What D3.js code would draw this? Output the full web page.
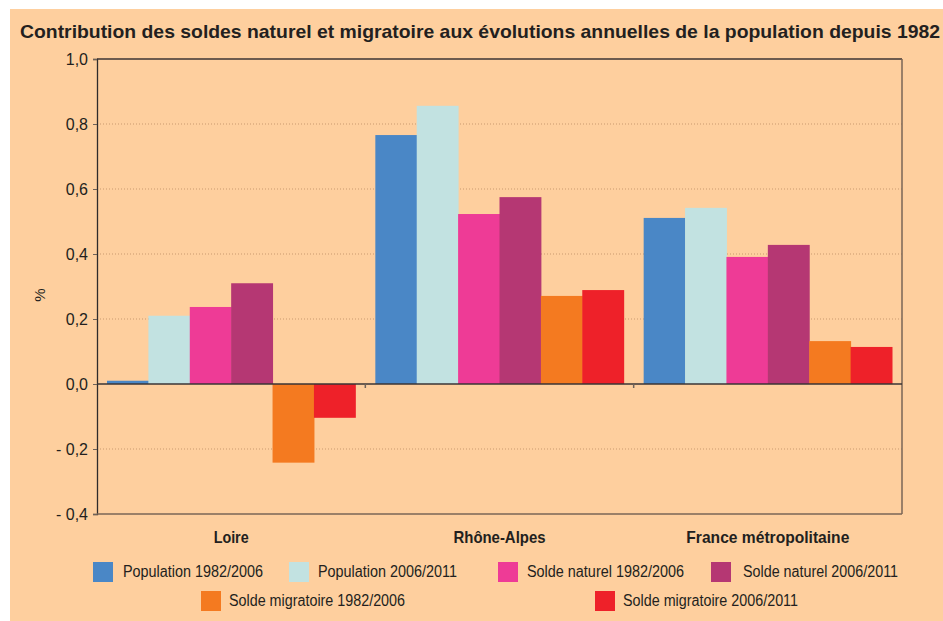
<!DOCTYPE html>
<html>
<head>
<meta charset="utf-8">
<script src="https://cdn.jsdelivr.net/npm/d3@7"></script>
<style>
  body { margin: 0; background: #fff; }
  svg text { font-family: "Liberation Sans", Arial, sans-serif; fill: #231f20; }
</style>
</head>
<body>
<div id="container"></div>
<script>
const categories = ["Loire", "Rhône-Alpes", "France métropolitaine"];
const categoryWidths = [35, 92, 163];
const seriesNames = ["Population 1982/2006", "Population 2006/2011", "Solde naturel 1982/2006",
                     "Solde naturel 2006/2011", "Solde migratoire 1982/2006", "Solde migratoire 2006/2011"];
const pop8206 = [0.01, 0.766, 0.511];
const pop0611 = [0.21, 0.856, 0.542];
const nat8206 = [0.237, 0.523, 0.391];
const nat0611 = [0.31, 0.575, 0.428];
const mig8206 = [-0.242, 0.271, 0.132];
const mig0611 = [-0.104, 0.289, 0.114];
const yTicks = [-0.4, -0.2, 0, 0.2, 0.4, 0.6, 0.8, 1.0];
const colors = ["#4a87c6", "#c2e2e1", "#ee3b96", "#b53773", "#f47a20", "#ee2129"];

const series = [pop8206, pop0611, nat8206, nat0611, mig8206, mig0611];

const width = 943, height = 621;
const marginLeft = 97, marginRight = 41, marginTop = 59, marginBottom = 107;

const svg = d3.select("#container").append("svg")
    .attr("width", width)
    .attr("height", height);

// peach panel
svg.append("rect")
    .attr("x", 10).attr("y", 9)
    .attr("width", width - 10).attr("height", height - 9)
    .attr("fill", "#fecf9e");

svg.append("text")
    .attr("x", 20).attr("y", 38)
    .attr("font-size", 19).attr("font-weight", "bold")
    .attr("textLength", 920).attr("lengthAdjust", "spacingAndGlyphs")
    .text("Contribution des soldes naturel et migratoire aux évolutions annuelles de la population depuis 1982");

const x = d3.scaleBand()
    .domain(categories)
    .range([marginLeft, width - marginRight]);

const xs = d3.scaleBand()
    .domain(d3.range(series.length))
    .range([10, x.bandwidth() - 10]);

const y = d3.scaleLinear()
    .domain([-0.4, 1.0])
    .range([height - marginBottom, marginTop]);

const fmt = v => (v < 0 ? "- " : "") + d3.format(".1f")(Math.abs(v)).replace(".", ",");

// grid
svg.append("g")
    .selectAll("line")
    .data(yTicks.filter(v => v !== 0 && v !== 1 && v !== -0.4))
    .join("line")
    .attr("x1", marginLeft).attr("x2", width - marginRight)
    .attr("y1", d => y(d)).attr("y2", d => y(d))
    .attr("stroke", "#c9996e")
    .attr("stroke-width", 1)
    .attr("stroke-dasharray", "1,2");

// y axis
svg.append("g")
    .attr("transform", `translate(${marginLeft},0)`)
    .call(d3.axisLeft(y).tickValues(yTicks).tickFormat(fmt).tickSize(4).tickPadding(5))
    .call(g => g.select(".domain").attr("stroke", "#2f2b2b").attr("stroke-width", 1.3))
    .call(g => g.selectAll(".tick line").attr("stroke", "#6e6259"))
    .call(g => g.selectAll(".tick text")
        .attr("font-size", 16)
        .attr("font-family", null)
        .attr("fill", "#231f20"));

// bars
svg.append("g")
    .selectAll("g")
    .data(series)
    .join("g")
    .attr("fill", (d, i) => colors[i])
    .selectAll("rect")
    .data((d, i) => d.map((v, j) => ({ v, i, cat: categories[j] })))
    .join("rect")
    .attr("x", d => x(d.cat) + xs(d.i))
    .attr("width", xs.bandwidth() + 0.5)
    .attr("y", d => y(Math.max(0, d.v)))
    .attr("height", d => Math.abs(y(d.v) - y(0)));

// frame: top, right, bottom
svg.append("line")
    .attr("x1", marginLeft).attr("x2", width - marginRight)
    .attr("y1", y(1.0)).attr("y2", y(1.0))
    .attr("stroke", "#3c3533").attr("stroke-width", 1.3);
svg.append("line")
    .attr("x1", width - marginRight).attr("x2", width - marginRight)
    .attr("y1", y(1.0)).attr("y2", y(-0.4))
    .attr("stroke", "#7a6656").attr("stroke-width", 1.5);
svg.append("line")
    .attr("x1", marginLeft).attr("x2", width - marginRight)
    .attr("y1", y(-0.4)).attr("y2", y(-0.4))
    .attr("stroke", "#7a6656").attr("stroke-width", 1.5);

// zero line with category separators
svg.append("line")
    .attr("x1", marginLeft).attr("x2", width - marginRight)
    .attr("y1", y(0)).attr("y2", y(0))
    .attr("stroke", "#3a3434").attr("stroke-width", 1.5);
svg.append("g")
    .selectAll("line")
    .data(categories.slice(1))
    .join("line")
    .attr("x1", d => x(d)).attr("x2", d => x(d))
    .attr("y1", y(0)).attr("y2", y(0) + 4)
    .attr("stroke", "#6e6259").attr("stroke-width", 1.5);

// category labels
svg.append("g")
    .selectAll("text")
    .data(categories)
    .join("text")
    .attr("x", d => x(d) + x.bandwidth() / 2)
    .attr("y", 543)
    .attr("text-anchor", "middle")
    .attr("font-size", 16.5)
    .attr("font-weight", "bold")
    .attr("textLength", (d, i) => categoryWidths[i])
    .attr("lengthAdjust", "spacingAndGlyphs")
    .text(d => d);

// y title
svg.append("text")
    .attr("transform", "translate(45,295) rotate(-90)")
    .attr("text-anchor", "middle")
    .attr("font-size", 15)
    .text("%");

// legend
const legendPos = [
  { sx: 93, tx: 123, row: 0, w: 140 },
  { sx: 289, tx: 318, row: 0, w: 139 },
  { sx: 498, tx: 527, row: 0, w: 157 },
  { sx: 711, tx: 743, row: 0, w: 155 },
  { sx: 201, tx: 229, row: 1, w: 176 },
  { sx: 595, tx: 623, row: 1, w: 175 }
];
const rowY = [562, 591];

const legend = svg.append("g")
    .selectAll("g")
    .data(seriesNames)
    .join("g");

legend.append("rect")
    .attr("x", (d, i) => legendPos[i].sx)
    .attr("y", (d, i) => rowY[legendPos[i].row])
    .attr("width", 20).attr("height", 20)
    .attr("fill", (d, i) => colors[i]);

legend.append("text")
    .attr("x", (d, i) => legendPos[i].tx)
    .attr("y", (d, i) => rowY[legendPos[i].row] + 15)
    .attr("font-size", 16)
    .attr("textLength", (d, i) => legendPos[i].w)
    .attr("lengthAdjust", "spacingAndGlyphs")
    .text(d => d);
</script>
</body>
</html>
